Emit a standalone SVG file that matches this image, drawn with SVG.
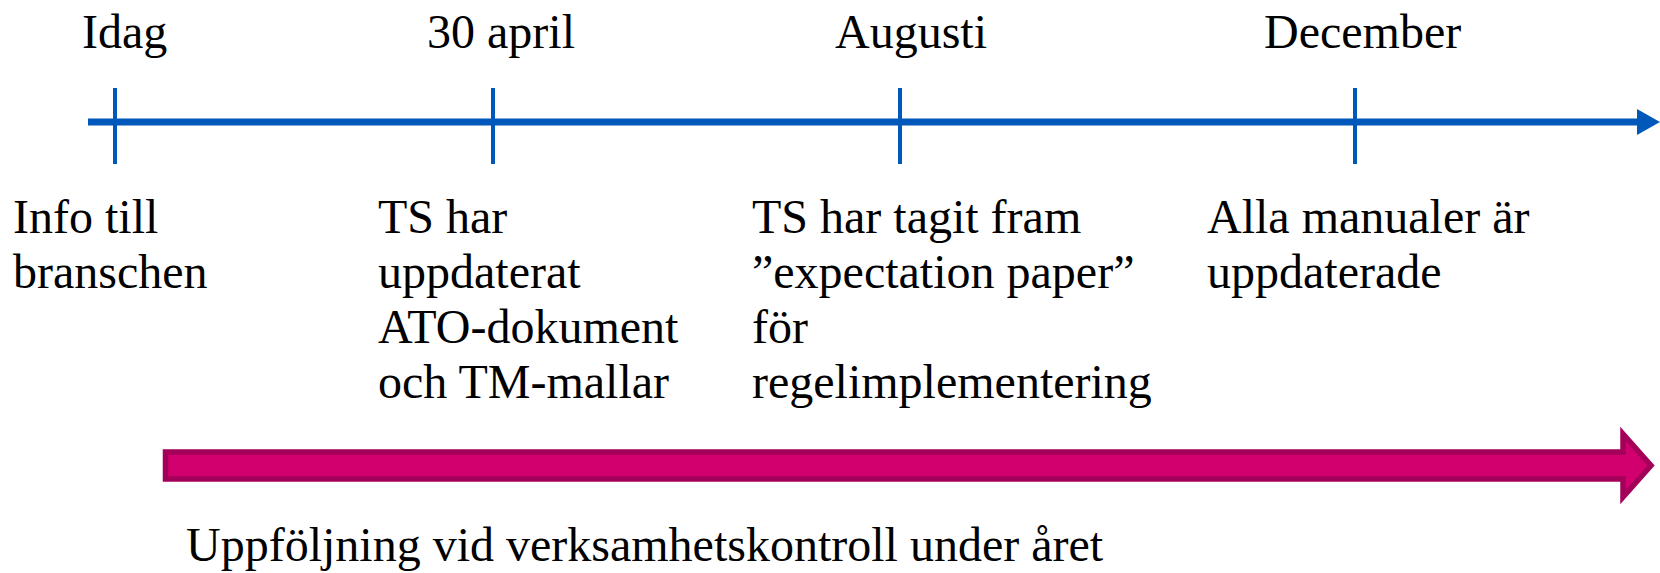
<svg xmlns="http://www.w3.org/2000/svg" width="1660" height="573" viewBox="0 0 1660 573">
<style>
text{font-family:"Liberation Serif","Times New Roman",serif;font-size:48px;fill:#000}
.axis{stroke:#0059BA;stroke-width:7;fill:none}
.tick{stroke:#0059BA;stroke-width:4;fill:none}
.big{fill:#D2006F;stroke:#A3005A;stroke-width:5.5;stroke-linejoin:miter}
</style>
<rect width="1660" height="573" fill="#fff"/>
<g id="connectors">
<line class="axis" x1="88" y1="122" x2="1638" y2="122"/>
<polygon points="1637,109 1660,122 1637,135" fill="#0059BA"/>
<path class="big" d="M165.5,452 H1623 V434 L1651,465.5 L1623,497 V479 H165.5 Z"/>
</g>
<g id="idag">
<line class="tick" x1="115" y1="88" x2="115" y2="164"/>
<text x="82" y="48">Idag</text>
<text x="13" y="233">Info till</text>
<text x="13" y="288">branschen</text>
</g>
<g id="april">
<line class="tick" x1="493" y1="88" x2="493" y2="164"/>
<text x="427" y="48">30 april</text>
<text x="378" y="233">TS har</text>
<text x="378" y="288">uppdaterat</text>
<text x="378" y="343">ATO-dokument</text>
<text x="378" y="398">och TM-mallar</text>
</g>
<g id="augusti">
<line class="tick" x1="900" y1="88" x2="900" y2="164"/>
<text x="835" y="48">Augusti</text>
<text x="752" y="233">TS har tagit fram</text>
<text x="752" y="288">”expectation paper”</text>
<text x="752" y="343">för</text>
<text x="752" y="398">regelimplementering</text>
</g>
<g id="december">
<line class="tick" x1="1355" y1="88" x2="1355" y2="164"/>
<text x="1264" y="48">December</text>
<text x="1207" y="233">Alla manualer är</text>
<text x="1207" y="288">uppdaterade</text>
</g>
<g id="uppfoljning">
<text x="186" y="561">Uppföljning vid verksamhetskontroll under året</text>
</g>
</svg>
